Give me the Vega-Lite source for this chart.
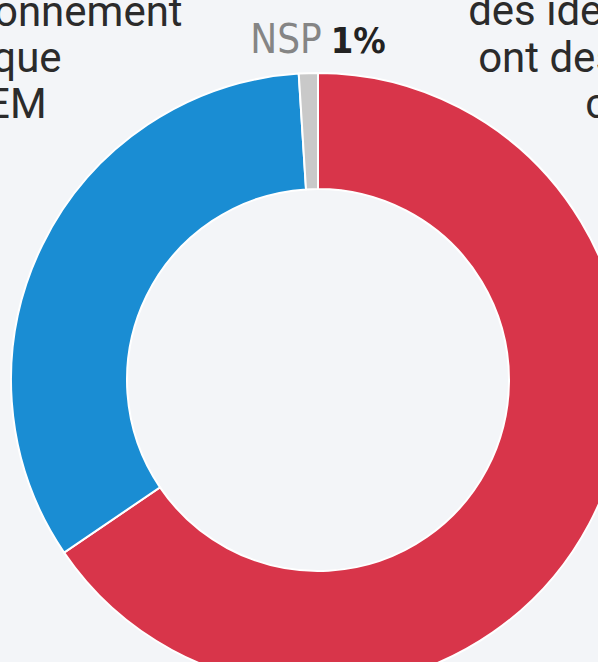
{
  "$schema": "https://vega.github.io/schema/vega-lite/v6.json",
  "width": 560,
  "height": 564,
  "autosize": "none",
  "padding": {"left": 38, "top": 98, "right": 0, "bottom": 0},
  "background": "#f3f5f8",
  "config": {"view": {"stroke": null}, "font": "Roboto"},
  "data": {"values": [
    {"cat": "Opposés", "pct": 65.5, "ord": 1, "label": "65%"},
    {"cat": "Soutiens", "pct": 33.5, "ord": 2, "label": "34%"},
    {"cat": "NSP", "pct": 1, "ord": 3, "label": "1%"}
  ]},
  "encoding": {
    "theta": {"field": "pct", "type": "quantitative", "stack": true},
    "order": {"field": "ord", "type": "quantitative"},
    "detail": {"field": "cat", "type": "nominal"}
  },
  "layer": [
    {
      "mark": {"type": "arc", "outerRadius": 307, "innerRadius": 191, "stroke": "#ffffff", "strokeWidth": 2},
      "encoding": {
        "color": {"field": "cat", "type": "nominal", "legend": null,
          "scale": {"domain": ["Opposés", "Soutiens", "NSP"], "range": ["#d8354a", "#1a8dd3", "#c9c9c9"]}}
      }
    },
    {
      "mark": {"type": "text", "radius": 327, "align": "right", "baseline": "alphabetic", "dx": 14, "font": "DejaVu Sans Condensed", "fontSize": 40, "color": "#858585"},
      "encoding": {"text": {"condition": {"test": "datum.cat === 'NSP'", "field": "cat"}, "value": ""}}
    },
    {
      "mark": {"type": "text", "radius": 327, "align": "left", "baseline": "alphabetic", "dx": 23, "font": "DejaVu Sans Condensed", "fontSize": 36, "fontWeight": "bold", "color": "#222222"},
      "encoding": {"text": {"condition": {"test": "datum.cat === 'NSP'", "field": "label"}, "value": ""}}
    },
    {
      "mark": {"type": "text", "radius": 300, "align": "right", "baseline": "alphabetic", "dx": 134, "dy": -222, "fontSize": 42, "color": "#2b2b2b"},
      "encoding": {"text": {"condition": {"test": "datum.cat === 'Soutiens'", "value": "onnement"}, "value": ""}}
    },
    {
      "mark": {"type": "text", "radius": 300, "align": "right", "baseline": "alphabetic", "dx": 13, "dy": -176, "fontSize": 42, "color": "#2b2b2b"},
      "encoding": {"text": {"condition": {"test": "datum.cat === 'Soutiens'", "value": "que"}, "value": ""}}
    },
    {
      "mark": {"type": "text", "radius": 300, "align": "right", "baseline": "alphabetic", "dx": -2, "dy": -130, "fontSize": 42, "color": "#2b2b2b"},
      "encoding": {"text": {"condition": {"test": "datum.cat === 'Soutiens'", "value": "EM"}, "value": ""}}
    },
    {
      "mark": {"type": "text", "radius": 300, "align": "left", "baseline": "alphabetic", "dx": -115, "dy": -495, "fontSize": 42, "color": "#2b2b2b"},
      "encoding": {"text": {"condition": {"test": "datum.cat === 'Opposés'", "value": "des idées"}, "value": ""}}
    },
    {
      "mark": {"type": "text", "radius": 300, "align": "left", "baseline": "alphabetic", "dx": -105, "dy": -448, "fontSize": 42, "color": "#2b2b2b"},
      "encoding": {"text": {"condition": {"test": "datum.cat === 'Opposés'", "value": "ont des"}, "value": ""}}
    },
    {
      "mark": {"type": "text", "radius": 300, "align": "left", "baseline": "alphabetic", "dx": 2, "dy": -402, "fontSize": 42, "color": "#2b2b2b"},
      "encoding": {"text": {"condition": {"test": "datum.cat === 'Opposés'", "value": "c"}, "value": ""}}
    }
  ]
}
